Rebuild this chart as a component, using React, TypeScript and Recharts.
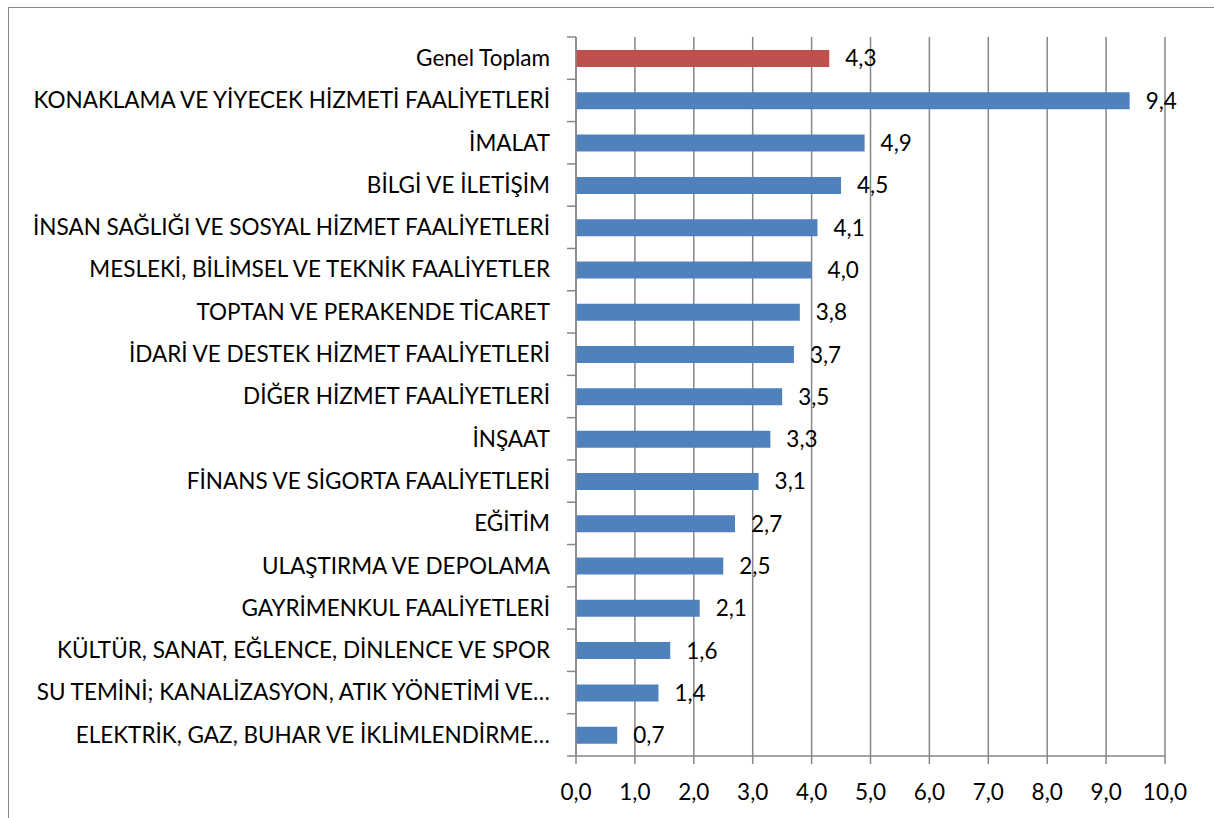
import { BarChart, Bar, XAxis, YAxis, CartesianGrid, LabelList, Cell } from 'recharts';

const categories = [
  'Genel Toplam',
  'KONAKLAMA VE YİYECEK HİZMETİ FAALİYETLERİ',
  'İMALAT',
  'BİLGİ VE İLETİŞİM',
  'İNSAN SAĞLIĞI VE SOSYAL HİZMET FAALİYETLERİ',
  'MESLEKİ, BİLİMSEL VE TEKNİK FAALİYETLER',
  'TOPTAN VE PERAKENDE TİCARET',
  'İDARİ VE DESTEK HİZMET FAALİYETLERİ',
  'DİĞER HİZMET FAALİYETLERİ',
  'İNŞAAT',
  'FİNANS VE SİGORTA FAALİYETLERİ',
  'EĞİTİM',
  'ULAŞTIRMA VE DEPOLAMA',
  'GAYRİMENKUL FAALİYETLERİ',
  'KÜLTÜR, SANAT, EĞLENCE, DİNLENCE VE SPOR',
  'SU TEMİNİ; KANALİZASYON, ATIK YÖNETİMİ VE…',
  'ELEKTRİK, GAZ, BUHAR VE İKLİMLENDİRME…',
];
const values = [4.3, 9.4, 4.9, 4.5, 4.1, 4.0, 3.8, 3.7, 3.5, 3.3, 3.1, 2.7, 2.5, 2.1, 1.6, 1.4, 0.7];
const xTicks = [0, 1, 2, 3, 4, 5, 6, 7, 8, 9, 10];

const BLUE = '#4F81BD';
const RED = '#C0504D';
const GRAY = '#878787';
const FONT = 'Lato, "Open Sans", sans-serif';
const FS = 22.5;

const data = categories.map((name, i) => ({ name, value: values[i] }));
const fmt = (v: number) => v.toFixed(1).replace('.', ',');

const TICK_GAP = 26;

function CatTick({ x, y, payload, index }: any) {
  const half = payload?.offset ?? 0;
  const ax = x + TICK_GAP;
  return (
    <g>
      <text x={x} y={y} dy="0.35em" textAnchor="end" fill="#000" fontSize={FS} fontFamily={FONT}>
        {payload.value}
      </text>
      <line x1={ax - 9} x2={ax} y1={y - half} y2={y - half} stroke={GRAY} strokeWidth={1.5} />
      {index === categories.length - 1 && (
        <line x1={ax - 9} x2={ax} y1={y + half} y2={y + half} stroke={GRAY} strokeWidth={1.5} />
      )}
    </g>
  );
}

export default function App() {
  return (
    <div style={{ position: 'fixed', left: 8, top: 7, width: 1208, height: 812, borderLeft: `1.5px solid ${GRAY}`, borderTop: `1.5px solid ${GRAY}`, boxSizing: 'border-box', background: '#fff' }}>
      <BarChart
        width={1206}
        height={810}
        data={data}
        layout="vertical"
        margin={{ top: 29, right: 50, bottom: 22, left: 0 }}
      >
        <CartesianGrid horizontal={false} stroke={GRAY} strokeWidth={1.5} />
        <XAxis
          type="number"
          domain={[0, 10]}
          ticks={xTicks}
          tickFormatter={fmt}
          height={40}
          tickSize={8}
          tickMargin={20}
          stroke={GRAY}
          axisLine={{ stroke: GRAY, strokeWidth: 1.5 }}
          tickLine={{ stroke: GRAY, strokeWidth: 1.5 }}
          tick={{ fill: '#000', fontSize: FS, fontFamily: FONT }}
        />
        <YAxis
          type="category"
          dataKey="name"
          width={567}
          tickSize={0}
          tickMargin={TICK_GAP}
          tickLine={false}
          axisLine={{ stroke: GRAY, strokeWidth: 1.5 }}
          tick={<CatTick />}
          interval={0}
        />
        <Bar dataKey="value" barSize={17} isAnimationActive={false}>
          {data.map((d, i) => (
            <Cell key={d.name} fill={i === 0 ? RED : BLUE} />
          ))}
          <LabelList
            dataKey="value"
            position="right"
            offset={16}
            formatter={(v: any) => fmt(Number(v))}
            fill="#000"
            fontSize={FS}
            fontFamily={FONT}
          />
        </Bar>
      </BarChart>
    </div>
  );
}
